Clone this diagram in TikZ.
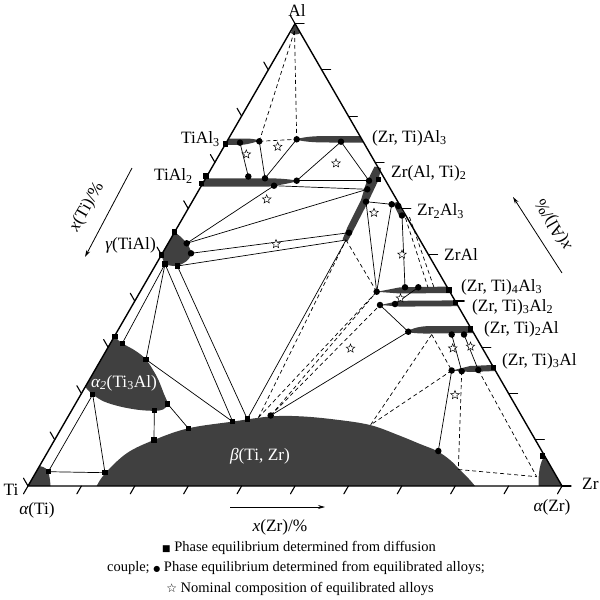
\documentclass[tikz,border=0pt]{standalone}
\usepackage{fontspec}
\setmainfont{Liberation Serif}
\newfontfamily\symfont{DejaVu Sans}
\usetikzlibrary{shapes.geometric,arrows.meta}
\definecolor{phasegray}{RGB}{64,64,64}
\begin{document}
\begin{tikzpicture}[x=1pt,y=-1pt,
  phase/.style={fill=phasegray,draw=none},
  axis/.style={line width=1.4pt,line cap=round,line join=round},
  tie/.style={line width=0.7pt},
  tied/.style={line width=0.7pt,dash pattern=on 4pt off 3pt},
  sqm/.style={rectangle,fill=black,minimum size=5.5pt,inner sep=0pt},
  dotm/.style={circle,fill=black,minimum size=6.5pt,inner sep=0pt},
  nominal/.style={star,star points=5,star point ratio=2.3,draw,fill=white,line width=0.5pt,minimum size=9pt,inner sep=0pt},
  lbl/.style={font=\fontsize{17.3}{18}\selectfont,inner sep=0pt},
  wlbl/.style={lbl,text=white},
  leg/.style={font=\fontsize{14.5}{16}\selectfont,inner sep=0pt},
  arr/.style={line width=0.8pt,-{Stealth[length=7pt,width=4pt]}}
]
\useasboundingbox (0,0) rectangle (600,600);
% vertices
\coordinate (Ti) at (28,486);
\coordinate (Zr) at (562,486);
\coordinate (Al) at (295,23.6);
% points
\coordinate (Alp) at (294.5,31);
\coordinate (t3s) at (225.3,144);
\coordinate (t3a) at (240,142.7);
\coordinate (t3b) at (259.3,141.3);
\coordinate (z3a) at (296.7,139.3);
\coordinate (z3b) at (341,141.7);
\coordinate (t2s1) at (201.7,183.3);
\coordinate (t2s2) at (206,176);
\coordinate (t2a) at (248.3,176.5);
\coordinate (t2b) at (265,178.3);
\coordinate (t2c) at (274,185.7);
\coordinate (t2d) at (296.7,180.7);
\coordinate (za1) at (369,180.7);
\coordinate (zas) at (378.7,179.3);
\coordinate (za2) at (367.3,189.3);
\coordinate (za3) at (366,201.7);
\coordinate (za4) at (349,232.7);
\coordinate (za5) at (346,240);
\coordinate (z23a) at (391.7,204.3);
\coordinate (z23b) at (398.3,206);
\coordinate (z23c) at (402,215.5);
\coordinate (z23p) at (405.5,218);
\coordinate (z23q) at (409.5,217);
\coordinate (ga) at (174.6,232);
\coordinate (gb) at (186.7,243.3);
\coordinate (gc) at (191,253.3);
\coordinate (gd) at (161.4,255);
\coordinate (ge) at (165,264);
\coordinate (gf) at (177.3,266);
\coordinate (z43a) at (376.7,291.7);
\coordinate (z43b) at (405,287.3);
\coordinate (z43c) at (418.3,287.3);
\coordinate (z43p) at (428,287.5);
\coordinate (z43q) at (434,287.5);
\coordinate (z43s) at (449,290);
\coordinate (z32a) at (380,305);
\coordinate (z32b) at (395,304);
\coordinate (z32s) at (455.5,302.5);
\coordinate (z21a) at (408.3,331.7);
\coordinate (z21p) at (431.7,334.5);
\coordinate (z21b) at (451.7,334.5);
\coordinate (z21c) at (464,334.5);
\coordinate (z21s) at (470.7,329);
\coordinate (z31a) at (451.7,370.5);
\coordinate (z31b) at (461.7,371.2);
\coordinate (z31c) at (478.3,370);
\coordinate (z31s) at (493.3,367.3);
\coordinate (a2s1) at (115,336.7);
\coordinate (a2s2) at (122.3,343.3);
\coordinate (a2s3) at (146,359.5);
\coordinate (a2s4) at (167.7,404);
\coordinate (a2s5) at (154.3,410.5);
\coordinate (a2s6) at (92.7,394.5);
\coordinate (bs1) at (105,472.7);
\coordinate (bs2) at (154,440);
\coordinate (bs3) at (188.3,428.3);
\coordinate (bs4) at (232.7,421.7);
\coordinate (bs5) at (247.3,419);
\coordinate (bp1) at (258.5,417.5);
\coordinate (bc1) at (270.7,415.5);
\coordinate (bp2) at (370.5,425);
\coordinate (bc2) at (438.3,451);
\coordinate (bp3) at (458.3,469.5);
\coordinate (ats) at (48.3,471.7);
\coordinate (azs) at (542.7,456);
\coordinate (azp) at (536.7,476.7);
% ---------------- phase regions
\fill[phase] (Al) -- (290.8,33) .. controls (293,35) and (298,35) .. (300.4,33) -- cycle;
\fill[phase] (Ti) -- (39.5,466) .. controls (45,467) and (48,469.5) .. (48.7,473) .. controls (49.8,478) and (50.3,482) .. (50.5,486) -- cycle;
\fill[phase] (538.5,486) .. controls (538.3,472) and (540,462) .. (544.7,456) -- (Zr) -- cycle;
\fill[phase] plot[smooth,tension=0.6] coordinates {(96.7,486) (105,473.5) (126.7,453.3) (154,440) (188.3,428.3) (233.3,421.5) (270,416.5) (300,416.3) (335,419.5) (370,425) (398,435) (420,444) (437,451) (450,460) (460,470) (469,479) (475,486)} -- cycle;
\fill[phase] (85.2,387) -- (114.3,336.5) plot[smooth,tension=0.55] coordinates {(114.3,336.5) (122.3,343.3) (135,350.5) (146,359.5) (157,377) (164,394) (167.7,404) (163,409.5) (154.3,410.8) (138,409.8) (120,406.5) (104,401.5) (92.7,394.5) (85.2,387)} -- cycle;
\fill[phase] (gd) -- (ga) plot[smooth,tension=0.6] coordinates {(174.6,232) (181.5,237.5) (186.7,243.3) (190.5,250) (190.5,256) (186,261.5) (177.3,265.8) (170,265.5) (165,264) (161.4,255)} -- cycle;
% TiAl3
\fill[phase] (228.6,138.5) -- (245,138.5) .. controls (252,138.6) and (256,139.3) .. (259.5,140.5) .. controls (256,142) and (250,144) .. (242,144.8) -- (224.9,145) -- cycle;
% (Zr,Ti)Al3
\fill[phase] (295.5,139.5) .. controls (305,136.5) and (315,136) .. (330,136) -- (359.9,136) -- (363.6,142.5) -- (330,142.5) .. controls (315,142.5) and (305,142) .. (295.5,139.5) -- cycle;
% TiAl2
\fill[phase] (205.7,178.3) -- (270,178.3) .. controls (282,178.5) and (292,179.5) .. (299,181) .. controls (292,182.5) and (282,185) .. (268,186.7) -- (200.8,186.7) -- cycle;
% Zr(Al,Ti)2
\fill[phase] (374.5,166.5) -- (381,168) -- (378.5,180) -- (368.5,201) -- (351,235) -- (347.5,241.5) -- (342.5,239.5) -- (347.5,227) -- (361,200) -- (365.5,185) -- cycle;
% Zr2Al3
\draw[line width=5pt,phasegray] (395.5,202.5) -- (402.5,217);
% (Zr,Ti)4Al3
\fill[phase] (377,291.8) -- (400,287.3) -- (447.1,286.6) -- (450.6,293) -- (400,293.5) -- cycle;
% (Zr,Ti)3Al2
\fill[phase] (380.5,305) -- (400,300.8) -- (454.8,300.4) -- (458,306.2) -- (400,306.6) -- cycle;
% (Zr,Ti)2Al
\fill[phase] (407,332) .. controls (412,328) and (420,326.3) .. (430,326) -- (469.6,326) -- (473.7,333) -- (430,333.5) .. controls (420,333.7) and (412,333) .. (407,332) -- cycle;
% (Zr,Ti)3Al
\fill[phase] (452,370.5) -- (470,366) -- (492.1,365) -- (495.6,371) -- (470,372) -- cycle;
% ---------------- triangle and ticks
\draw[axis] (Ti) -- (Zr) -- (Al) -- cycle;
\foreach \k in {0,...,10}{
  \draw[axis,line width=1.1pt] ({28+53.4*\k},486) -- ++(-4.5,7.8);
  \draw[axis,line width=1.1pt] ({28+26.7*\k},{486-46.24*\k}) -- ++(-4.5,-7.8);
  \draw[axis,line width=1.1pt] ({562-26.7*\k},{486-46.24*\k}) -- ++(9,0);
}
% ---------------- solid tie lines
\draw[tie] (t3a) -- (t2a);
\draw[tie] (t3b) -- (t2b);
\draw[tie] (z3a) -- (t2b);
\draw[tie] (z3b) -- (t2d);
\draw[tie] (z3b) -- (za1);
\draw[tie] (t2d) -- (za1);
\draw[tie] (t2c) -- (za2);
\draw[tie] (gb) -- (t2c);
\draw[tie] (gb) -- (za2);
\draw[tie] (gc) -- (za4);
\draw[tie] (gf) -- (za5);
\draw[tie] (za3) -- (z23a);
\draw[tie] (za3) -- (z43a);
\draw[tie] (z23a) -- (z43a);
\draw[tie] (z23c) -- (z43b);
\draw[tie] (z43c) -- (z32b);
\draw[tie] (z32a) -- (z21a);
\draw[tie] (bc1) -- (z21a);
\draw[tie] (bs5) -- (za5);
\draw[tie] (ge) -- (a2s2);
\draw[tie] (ge) -- (a2s3);
\draw[tie] (ge) -- (bs4);
\draw[tie] (gf) -- (bs5);
\draw[tie] (a2s3) -- (bs4);
\draw[tie] (a2s4) -- (bs3);
\draw[tie] (a2s5) -- (bs2);
\draw[tie] (a2s6) -- (bs1);
\draw[tie] (a2s6) -- (ats);
\draw[tie] (ats) -- (bs1);
\draw[tie] (z21b) -- (z31b);
\draw[tie] (z21c) -- (z31c);
\draw[tie] (z31a) -- (bc2);
% ---------------- dashed tie lines
\draw[tied] (Alp) -- (t3b);
\draw[tied] (Alp) -- (z3a);
\draw[tied] (t3b) -- (z3a);
\draw[tied] (z23p) -- (z43p);
\draw[tied] (z23q) -- (z43q);
\draw[tied] (za5) -- (z43a);
\draw[tied] (bp1) -- (za5);
\draw[tied] (bp1) -- (z43a);
\draw[tied] (bc1) -- (z43a);
\draw[tied] (bc1) -- (z32a);
\draw[tied] (z21p) -- (bp2);
\draw[tied] (z31a) -- (bp2);
\draw[tied] (z21p) -- (z31a);
\draw[tied] (z31b) -- (bp3);
\draw[tied] (bp3) -- (azp);
\draw[tied] (z31c) -- (azp);
% ---------------- markers
\foreach \p in {t3s,t2s1,t2s2,zas,ga,gd,ge,gf,z43s,z32s,z21s,z31s,a2s1,a2s2,a2s3,a2s4,a2s5,a2s6,bs1,bs2,bs3,bs4,bs5,ats,azs}
  \node[sqm] (\p-m) at (\p) {};
\foreach \p in {t3a,t3b,z3a,z3b,t2a,t2b,t2c,t2d,za1,za2,za3,za4,z23a,z23b,z23c,gb,gc,z43a,z43b,z43c,z32a,z32b,z21a,z21b,z21c,z31a,z31b,z31c,bc1,bc2}
  \node[dotm] (\p-m) at (\p) {};
% nominal compositions
\node[nominal] (n1) at (277.7,146.7) {};
\node[nominal] (n2) at (246.3,154.3) {};
\node[nominal] (n3) at (336,163.3) {};
\node[nominal] (n4) at (266.7,199.3) {};
\node[nominal] (n5) at (276,244) {};
\node[nominal] (n6) at (374,212.7) {};
\node[nominal] (n7) at (402,254.5) {};
\node[nominal] (n8) at (400.5,298.3) {};
\node[nominal] (n9) at (350.5,348.5) {};
\node[nominal] (n10) at (452.7,348.3) {};
\node[nominal] (n11) at (470.5,346.5) {};
\node[nominal] (n12) at (455,395) {};
% ---------------- labels
\node[lbl] (lAl) at (297,10) {Al};
\node[lbl,anchor=east] (lTiAl3) at (220,139) {TiAl\textsubscript{3}};
\node[lbl,anchor=west] (lZrAl3) at (372,138) {(Zr, Ti)Al\textsubscript{3}};
\node[lbl,anchor=east] (lTiAl2) at (193,176) {TiAl\textsubscript{2}};
\node[lbl,anchor=west] (lZrAl2) at (391,173) {Zr(Al, Ti)\textsubscript{2}};
\node[lbl,anchor=west] (lZr2Al3) at (417,211) {Zr\textsubscript{2}Al\textsubscript{3}};
\node[lbl,anchor=west] (lZrAl) at (444,254) {ZrAl};
\node[lbl,anchor=east] (lgamma) at (156,245) {\itshape γ\upshape(TiAl)};
\node[lbl,anchor=west] (l43) at (461,287) {(Zr, Ti)\textsubscript{4}Al\textsubscript{3}};
\node[lbl,anchor=west] (l32) at (472,307) {(Zr, Ti)\textsubscript{3}Al\textsubscript{2}};
\node[lbl,anchor=west] (l21) at (484,329) {(Zr, Ti)\textsubscript{2}Al};
\node[lbl,anchor=west] (l31) at (502,361) {(Zr, Ti)\textsubscript{3}Al};
\node[wlbl] (la2) at (124,383) {\itshape α\textsubscript{2}\upshape(Ti\textsubscript{3}Al)};
\node[wlbl] (lbeta) at (260,456) {\itshape β\upshape(Ti, Zr)};
\node[lbl] (lTi) at (11,490) {Ti};
\node[lbl,anchor=west] (lZr) at (582,484) {Zr};
\node[lbl] (laTi) at (37,510) {\itshape α\upshape(Ti)};
\node[lbl] (laZr) at (552,507) {\itshape α\upshape(Zr)};
% axis titles and arrows
\coordinate (la1) at (132,168); \coordinate (la2e) at (85,257);
\draw[arr] (la1) -- (la2e);
\node[lbl,rotate=60] (xTi) at (87,207) {\itshape x\upshape(Ti)/\%};
\coordinate (ra1) at (562,273); \coordinate (ra2) at (513,197);
\draw[arr] (ra1) -- (ra2);
\node[lbl,rotate=120] (xAl) at (554,224) {\itshape x\upshape(Al)/\%};
\coordinate (ba1) at (230,507); \coordinate (ba2) at (325,507);
\draw[arr] (ba1) -- (ba2);
\node[lbl] (xZr) at (280,527) {\itshape x\upshape(Zr)/\%};
% legend
\node[leg] (leg1) at (299,548) {{\symfont\fontsize{9}{9}\selectfont ■} Phase equilibrium determined from diffusion};
\node[leg] (leg2) at (296,568) {couple; {\symfont\fontsize{8}{8}\selectfont ●} Phase equilibrium determined from equilibrated alloys;};
\node[leg] (leg3) at (300,589) {{\symfont\fontsize{12}{12}\selectfont ☆} Nominal composition of equilibrated alloys};
\end{tikzpicture}
\end{document}
